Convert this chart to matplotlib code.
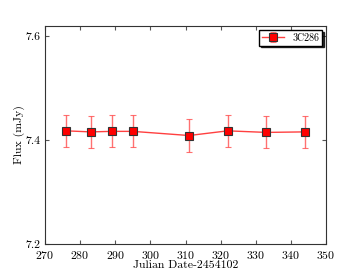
import matplotlib
matplotlib.use("Agg")
import matplotlib.pyplot as plt

jd = [276, 283, 289, 295, 311, 322, 333, 344]
flux = [7.418, 7.416, 7.417, 7.417, 7.409, 7.418, 7.415, 7.416]
err = [0.031, 0.031, 0.031, 0.031, 0.031, 0.031, 0.031, 0.031]
xticks = [270, 280, 290, 300, 310, 320, 330, 340, 350]
yticks = [7.2, 7.4, 7.6]

plt.rcParams['font.family'] = 'serif'
plt.rcParams['font.serif'] = ['cmr10', 'DejaVu Serif']
plt.rcParams['axes.formatter.use_mathtext'] = True
plt.rcParams['mathtext.fontset'] = 'cm'

fig = plt.figure(figsize=(3.63, 2.72), dpi=100)
ax = fig.add_axes([45/363, 1-244/272, (326-45)/363, (244-26)/272])
ax.errorbar(jd, flux, yerr=err, color=(1, 0.25, 0.25), marker='s', markersize=6,
            markerfacecolor='red', markeredgecolor='#333333', markeredgewidth=0.8,
            ecolor=(1, 0.3, 0.3, 0.8), elinewidth=1.0, capsize=2, lw=1.0,
            label='3C286')
ax.set_xlim(270, 350)
ax.set_ylim(7.2, 7.62)
ax.set_xticks(xticks)
ax.set_yticks(yticks)
ax.set_yticklabels([f"{v:.1f}" for v in yticks])
ax.tick_params(direction='in', top=True, right=True, labelsize=8.5, length=3,
               color='#555555')
for s in ax.spines.values():
    s.set_color('#333333')
ax.set_xlabel('Julian Date-2454102', fontsize=8.5, labelpad=0)
ax.set_ylabel('Flux (mJy)', fontsize=8.5, labelpad=0)
ax.legend(loc='upper right', fontsize=7.2,
          shadow={'ox': 1.2, 'oy': -1.2, 'color': 'black', 'alpha': 0.8},
          fancybox=False, numpoints=1, handlelength=2.2, borderpad=0.3,
          framealpha=1, edgecolor='black', borderaxespad=0.4)
fig.savefig('out.png', dpi=100)
